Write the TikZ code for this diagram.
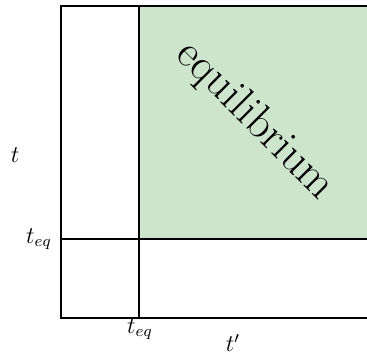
\documentclass[tikz,border=0pt]{standalone}
\definecolor{eqgreen}{RGB}{205,229,205}
\begin{document}
\begin{tikzpicture}[x=0.5pt,y=-0.5pt,
  axis/.style={line width=1.2pt},
  lbl/.style={inner sep=0pt, font=\fontsize{12}{14}\selectfont}]
\useasboundingbox (0,0) rectangle (367,356);
\fill[eqgreen] (139,6) rectangle (367,239);
\draw[axis] (367,6) -- (61,6) -- (61,318) -- (367,318);
\draw[axis] (61,239) -- (367,239);
\draw[axis] (139,6) -- (139,318);
\node[inner sep=0pt, rotate=-45, font=\fontsize{22.5}{26}\selectfont] (eq) at (255,121) {equilibrium};
\node[lbl] (t) at (15,155) {$t$};
\node[lbl] (teqy) at (39,239) {$t_{eq}$};
\node[lbl] (teqx) at (140,329) {$t_{eq}$};
\node[lbl] (tp) at (233,343) {$t'$};
\end{tikzpicture}
\end{document}
